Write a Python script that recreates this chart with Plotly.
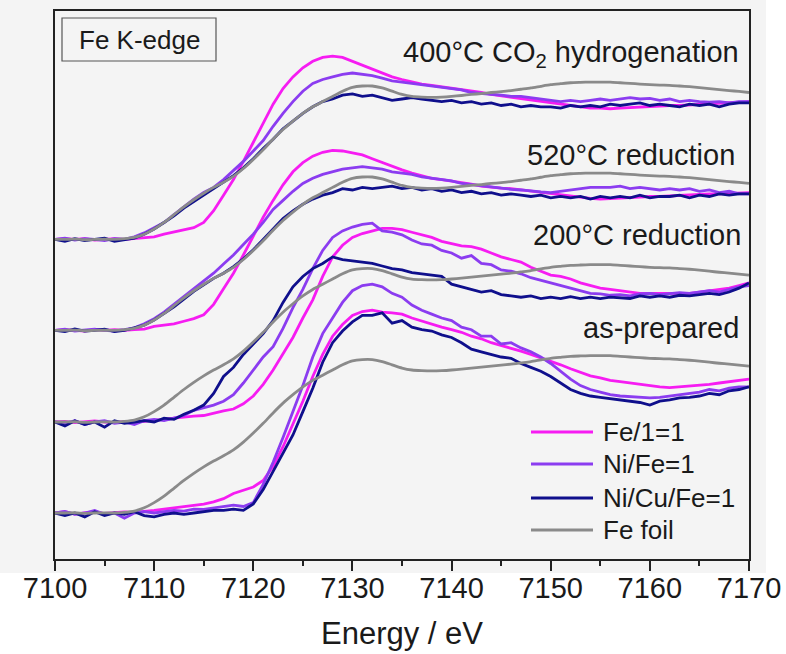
import plotly.graph_objects as go

# Photon energy grid (eV)
energy = list(range(7100, 7171))

# Normalised Fe K-edge XANES spectra (unit edge step)
fe_foil = [
    0.000, 0.000, 0.002, -0.003, 0.000, 0.001, 0.000, 0.005, 0.015, 0.040,
    0.080, 0.130, 0.190, 0.250, 0.305, 0.355, 0.400, 0.440, 0.485, 0.545,
    0.615, 0.690, 0.770, 0.845, 0.910, 0.970, 1.020, 1.060, 1.100, 1.140,
    1.170, 1.180, 1.180, 1.165, 1.140, 1.115, 1.100, 1.095, 1.093, 1.095,
    1.100, 1.107, 1.115, 1.122, 1.130, 1.137, 1.145, 1.155, 1.165, 1.178,
    1.190, 1.198, 1.205, 1.208, 1.210, 1.210, 1.210, 1.205, 1.200, 1.195,
    1.190, 1.187, 1.185, 1.180, 1.175, 1.168, 1.160, 1.152, 1.145, 1.138, 1.130,
]

# as-prepared
ap_fe = [
    0.000, 0.010, -0.008, 0.002, 0.010, -0.004, 0.000, 0.008, 0.004, 0.010,
    0.020, 0.030, 0.040, 0.050, 0.058, 0.068, 0.085, 0.110, 0.150, 0.178,
    0.200, 0.250, 0.360, 0.510, 0.680, 0.860, 1.050, 1.220, 1.360, 1.450,
    1.520, 1.550, 1.560, 1.545, 1.540, 1.530, 1.500, 1.475, 1.455, 1.430,
    1.410, 1.390, 1.360, 1.340, 1.310, 1.290, 1.265, 1.245, 1.220, 1.195,
    1.170, 1.140, 1.110, 1.080, 1.055, 1.040, 1.020, 1.010, 1.000, 0.985,
    0.975, 0.970, 0.965, 0.970, 0.975, 0.980, 0.990, 1.000, 1.010, 1.020, 1.030,
]
ap_nife = [
    0.000, 0.012, -0.010, 0.000, 0.020, -0.010, 0.000, -0.040, 0.000, 0.010,
    0.000, 0.012, 0.020, 0.015, 0.030, 0.028, 0.040, 0.050, 0.060, 0.050,
    0.080, 0.220, 0.390, 0.580, 0.780, 0.980, 1.200, 1.380, 1.500, 1.620,
    1.710, 1.750, 1.760, 1.740, 1.690, 1.660, 1.600, 1.560, 1.530, 1.500,
    1.480, 1.430, 1.410, 1.360, 1.360, 1.300, 1.310, 1.270, 1.240, 1.200,
    1.150, 1.090, 1.030, 0.980, 0.950, 0.930, 0.910, 0.900, 0.895, 0.890,
    0.885, 0.890, 0.900, 0.910, 0.920, 0.930, 0.950, 0.940, 0.960, 0.970, 0.970,
]
ap_nicufe = [
    0.000, -0.020, 0.000, -0.030, 0.010, -0.020, 0.000, -0.010, 0.010, -0.020,
    -0.030, -0.010, 0.000, -0.010, 0.000, 0.010, 0.020, 0.020, 0.030, 0.020,
    0.070, 0.180, 0.320, 0.470, 0.600, 0.780, 0.960, 1.160, 1.310, 1.400,
    1.470, 1.520, 1.520, 1.540, 1.460, 1.480, 1.430, 1.410, 1.400, 1.370,
    1.350, 1.310, 1.260, 1.240, 1.220, 1.200, 1.190, 1.150, 1.120, 1.090,
    1.050, 1.000, 0.950, 0.920, 0.900, 0.890, 0.880, 0.870, 0.860, 0.850,
    0.830, 0.860, 0.870, 0.885, 0.890, 0.900, 0.920, 0.910, 0.940, 0.950, 0.970,
]

# 200 °C reduction
r200_fe = [
    0.000, 0.005, -0.005, 0.000, 0.008, 0.000, -0.005, 0.005, 0.000, 0.005,
    0.010, 0.020, 0.030, 0.040, 0.045, 0.050, 0.070, 0.085, 0.100, 0.140,
    0.200, 0.290, 0.400, 0.520, 0.650, 0.800, 0.940, 1.120, 1.270, 1.360,
    1.420, 1.450, 1.470, 1.490, 1.490, 1.480, 1.460, 1.440, 1.420, 1.390,
    1.370, 1.355, 1.350, 1.330, 1.300, 1.270, 1.250, 1.230, 1.190, 1.160,
    1.130, 1.120, 1.100, 1.070, 1.050, 1.030, 1.020, 1.010, 1.000, 0.990,
    0.990, 0.990, 0.985, 0.990, 0.990, 1.000, 1.010, 1.020, 1.030, 1.050, 1.070,
]
r200_nife = [
    0.000, -0.010, 0.010, -0.020, 0.000, 0.010, -0.010, 0.000, -0.020, 0.010,
    0.020, 0.010, 0.030, 0.050, 0.090, 0.110, 0.130, 0.160, 0.210, 0.300,
    0.400, 0.500, 0.580, 0.720, 0.880, 1.020, 1.180, 1.320, 1.420, 1.470,
    1.500, 1.520, 1.530, 1.470, 1.460, 1.440, 1.400, 1.370, 1.360, 1.320,
    1.300, 1.260, 1.280, 1.220, 1.210, 1.170, 1.160, 1.140, 1.110, 1.090,
    1.070, 1.050, 1.030, 1.010, 0.990, 0.985, 0.975, 0.980, 0.970, 0.985,
    0.990, 0.980, 0.990, 0.995, 0.990, 1.000, 1.010, 1.000, 1.020, 1.040, 1.050,
]
r200_nicufe = [
    0.000, -0.030, 0.010, -0.020, 0.000, -0.040, 0.010, -0.010, 0.000, 0.010,
    0.000, 0.030, 0.020, 0.060, 0.090, 0.130, 0.220, 0.350, 0.420, 0.520,
    0.600, 0.680, 0.780, 0.920, 1.040, 1.120, 1.180, 1.220, 1.270, 1.250,
    1.240, 1.230, 1.220, 1.200, 1.180, 1.170, 1.150, 1.140, 1.130, 1.120,
    1.060, 1.040, 1.020, 1.000, 1.010, 0.980, 0.970, 0.960, 0.970, 0.950,
    0.960, 0.950, 0.965, 0.950, 0.960, 0.950, 0.960, 0.955, 0.950, 0.970,
    0.960, 0.970, 0.960, 0.975, 0.970, 0.980, 0.990, 0.980, 1.000, 1.030, 1.070,
]

# 520 °C reduction
r520_fe = [
    0.000, 0.005, 0.000, -0.005, 0.005, 0.000, 0.005, 0.000, 0.005, 0.010,
    0.030, 0.040, 0.050, 0.070, 0.090, 0.120, 0.200, 0.320, 0.440, 0.580,
    0.730, 0.870, 1.000, 1.120, 1.220, 1.290, 1.340, 1.370, 1.385, 1.380,
    1.365, 1.350, 1.320, 1.290, 1.260, 1.235, 1.210, 1.190, 1.170, 1.160,
    1.150, 1.140, 1.125, 1.110, 1.100, 1.095, 1.090, 1.080, 1.070, 1.060,
    1.050, 1.040, 1.030, 1.020, 1.015, 1.010, 1.015, 1.020, 1.020, 1.025,
    1.030, 1.030, 1.035, 1.040, 1.040, 1.045, 1.050, 1.050, 1.055, 1.060, 1.060,
]
r520_nife = [
    0.000, 0.010, -0.005, 0.000, 0.010, 0.000, -0.005, 0.005, 0.020, 0.050,
    0.090, 0.140, 0.200, 0.260, 0.320, 0.380, 0.440, 0.510, 0.580, 0.660,
    0.740, 0.830, 0.930, 1.000, 1.070, 1.130, 1.170, 1.200, 1.220, 1.240,
    1.250, 1.260, 1.250, 1.240, 1.220, 1.210, 1.200, 1.180, 1.170, 1.160,
    1.150, 1.130, 1.120, 1.110, 1.100, 1.090, 1.085, 1.080, 1.070, 1.065,
    1.060, 1.070, 1.080, 1.090, 1.100, 1.100, 1.100, 1.110, 1.090, 1.100,
    1.090, 1.080, 1.090, 1.080, 1.090, 1.070, 1.080, 1.060, 1.070, 1.050, 1.050,
]
r520_nicufe = [
    0.000, -0.010, 0.010, -0.005, 0.000, 0.010, -0.010, 0.000, 0.020, 0.040,
    0.080, 0.130, 0.180, 0.240, 0.300, 0.350, 0.400, 0.440, 0.490, 0.550,
    0.620, 0.700, 0.780, 0.860, 0.920, 0.970, 1.010, 1.040, 1.060, 1.090,
    1.080, 1.100, 1.090, 1.100, 1.110, 1.090, 1.100, 1.080, 1.090, 1.070,
    1.080, 1.060, 1.070, 1.050, 1.060, 1.040, 1.050, 1.040, 1.030, 1.040,
    1.020, 1.030, 1.020, 1.030, 1.010, 1.030, 1.020, 1.030, 1.020, 1.040,
    1.020, 1.030, 1.030, 1.040, 1.020, 1.040, 1.030, 1.050, 1.040, 1.050, 1.050,
]

# 400 °C CO2 hydrogenation
h400_fe = [
    0.000, 0.005, 0.000, 0.005, -0.005, 0.000, 0.005, 0.000, 0.005, 0.010,
    0.020, 0.040, 0.055, 0.070, 0.090, 0.130, 0.220, 0.340, 0.460, 0.600,
    0.750, 0.900, 1.040, 1.160, 1.250, 1.320, 1.370, 1.400, 1.410, 1.400,
    1.370, 1.340, 1.310, 1.280, 1.250, 1.230, 1.210, 1.195, 1.185, 1.175,
    1.160, 1.150, 1.140, 1.130, 1.115, 1.105, 1.095, 1.080, 1.070, 1.060,
    1.050, 1.040, 1.030, 1.020, 1.010, 1.010, 1.005, 1.010, 1.015, 1.020,
    1.020, 1.025, 1.030, 1.030, 1.035, 1.040, 1.040, 1.045, 1.050, 1.055, 1.060,
]
h400_nife = [
    0.000, 0.010, -0.005, 0.005, 0.000, -0.010, 0.005, 0.000, 0.020, 0.050,
    0.090, 0.130, 0.190, 0.250, 0.310, 0.360, 0.400, 0.460, 0.530, 0.600,
    0.680, 0.760, 0.870, 0.970, 1.060, 1.140, 1.200, 1.230, 1.250, 1.270,
    1.280, 1.270, 1.260, 1.240, 1.220, 1.210, 1.200, 1.190, 1.180, 1.170,
    1.160, 1.150, 1.130, 1.120, 1.115, 1.110, 1.100, 1.100, 1.090, 1.080,
    1.070, 1.060, 1.070, 1.060, 1.070, 1.080, 1.070, 1.080, 1.090, 1.080,
    1.085, 1.070, 1.080, 1.060, 1.070, 1.060, 1.055, 1.060, 1.050, 1.060, 1.060,
]
h400_nicufe = [
    0.000, -0.015, 0.005, -0.010, 0.000, 0.010, -0.015, 0.000, 0.010, 0.040,
    0.080, 0.130, 0.180, 0.240, 0.290, 0.340, 0.390, 0.440, 0.490, 0.550,
    0.620, 0.700, 0.770, 0.850, 0.910, 0.970, 1.020, 1.060, 1.080, 1.110,
    1.120, 1.100, 1.110, 1.090, 1.070, 1.080, 1.090, 1.080, 1.070, 1.060,
    1.070, 1.050, 1.060, 1.040, 1.050, 1.030, 1.040, 1.020, 1.030, 1.020,
    1.020, 1.010, 1.030, 1.020, 1.030, 1.020, 1.040, 1.030, 1.040, 1.050,
    1.030, 1.040, 1.030, 1.020, 1.040, 1.030, 1.040, 1.020, 1.040, 1.050, 1.050,
]

# Stacking: (condition label, vertical offset, [Fe/1=1, Ni/Fe=1, Ni/Cu/Fe=1])
stack = [
    ("as-prepared", 0.000, [ap_fe, ap_nife, ap_nicufe]),
    ("200°C reduction", 0.700, [r200_fe, r200_nife, r200_nicufe]),
    ("520°C reduction", 1.405, [r520_fe, r520_nife, r520_nicufe]),
    ("400°C CO<sub>2</sub> hydrogenation", 2.105, [h400_fe, h400_nife, h400_nicufe]),
]

series_names = ["Fe/1=1", "Ni/Fe=1", "Ni/Cu/Fe=1", "Fe foil"]
series_colors = ["#f61cf2", "#8b3cf0", "#0f0f8c", "#8a8a8a"]

FONT = "Liberation Sans, Arial, Helvetica, sans-serif"
INK = "#1a1a1a"

# figure geometry (px) used to place the text decorations
W, H = 786, 654
ML, MR, MT, MB = 55, 37, 11, 95
PW, PH = W - ML - MR, H - MT - MB


def xp(px):
    return (px - ML) / PW


def yp(py):
    return (H - MB - py) / PH


fig = go.Figure()

for label, off, curves in stack:
    for name, color, vals in zip(series_names[:3], series_colors[:3], curves):
        fig.add_trace(go.Scatter(
            x=energy, y=[v + off for v in vals], mode="lines", name=name,
            line=dict(color=color, width=2.8), showlegend=False,
        ))
    fig.add_trace(go.Scatter(
        x=energy, y=[v + off for v in fe_foil], mode="lines", name="Fe foil",
        line=dict(color=series_colors[3], width=2.8, shape="spline", smoothing=0.6),
        showlegend=False,
    ))

shapes = [
    # light grey figure panel
    dict(type="rect", xref="paper", yref="paper", layer="below",
         x0=xp(0), x1=xp(766), y0=yp(573), y1=yp(0),
         fillcolor="#f4f4f4", line=dict(width=0)),
    # frame of the "Fe K-edge" tag
    dict(type="rect", xref="paper", yref="paper",
         x0=xp(62), x1=xp(216), y0=yp(61), y1=yp(18),
         line=dict(color="#555555", width=1.2), fillcolor="rgba(0,0,0,0)"),
]

annotations = [
    dict(text="Fe K-edge", x=xp(139), y=yp(40), xref="paper", yref="paper",
         xanchor="center", yanchor="middle", showarrow=False,
         font=dict(size=26, color=INK, family=FONT)),
    dict(text="Energy / eV", x=xp(402), y=yp(633), xref="paper", yref="paper",
         xanchor="center", yanchor="middle", showarrow=False,
         font=dict(size=31, color=INK, family=FONT)),
]

label_pos = {
    "as-prepared": (741, 328),
    "200°C reduction": (743, 235),
    "520°C reduction": (737, 155),
    "400°C CO<sub>2</sub> hydrogenation": (741, 54),
}
for label, off, curves in stack:
    px, py = label_pos[label]
    annotations.append(dict(
        text=label, x=xp(px), y=yp(py), xref="paper", yref="paper",
        xanchor="right", yanchor="middle", showarrow=False,
        font=dict(size=29, color=INK, family=FONT)))

# legend drawn as line samples with labels
legend_rows = [432, 464, 498, 530]
for name, color, row in zip(series_names, series_colors, legend_rows):
    shapes.append(dict(type="line", xref="paper", yref="paper",
                       x0=xp(531), x1=xp(593), y0=yp(row), y1=yp(row),
                       line=dict(color=color, width=3)))
    annotations.append(dict(
        text=name, x=xp(601), y=yp(row), xref="paper", yref="paper",
        xanchor="left", yanchor="middle", showarrow=False,
        font=dict(size=26, color=INK, family=FONT)))

fig.update_layout(
    width=W, height=H,
    margin=dict(l=ML, r=MR, t=MT, b=MB, autoexpand=False),
    paper_bgcolor="#ffffff",
    plot_bgcolor="rgba(0,0,0,0)",
    font=dict(family=FONT, color=INK),
    shapes=shapes,
    annotations=annotations,
    showlegend=False,
    xaxis=dict(
        range=[7100, 7170], tick0=7100, dtick=10,
        ticks="outside", ticklen=10, tickwidth=1.5, tickcolor="#222222",
        minor=dict(dtick=5, tick0=7100, ticks="outside", ticklen=5,
                   tickwidth=1.5, tickcolor="#222222"),
        showline=True, mirror=True, linecolor="#222222", linewidth=1.5,
        showgrid=False, zeroline=False,
        tickfont=dict(size=29, color=INK, family=FONT),
        ticklabelstandoff=-8,
    ),
    yaxis=dict(
        range=[-0.354, 3.862], showticklabels=False, ticks="",
        showline=True, mirror=True, linecolor="#222222", linewidth=1.5,
        showgrid=False, zeroline=False,
    ),
)

fig.write_html("out.html")
